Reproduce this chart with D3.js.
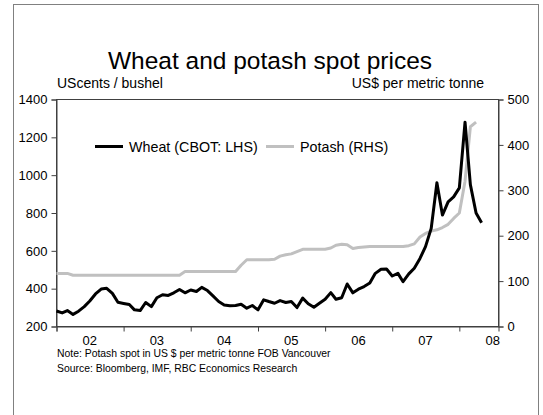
<!DOCTYPE html>
<html>
<head>
<meta charset="utf-8">
<script src="https://cdn.jsdelivr.net/npm/d3@7"></script>
<style>
  body { margin: 0; background: #fff; }
  svg text { font-family: "Liberation Sans", Arial, sans-serif; fill: #000; }
</style>
</head>
<body>
<svg id="chart" width="543" height="415"></svg>
<script>
// monthly averages, Jan 2002 onwards
var startMonth = new Date(2002, 0, 1);

// wheat, CBOT, US cents per bushel (left axis)
var wheat = [
  282, 272, 284, 264, 281, 305, 335, 372, 398, 402, 375, 328,
  322, 316, 288, 284, 327, 305, 352, 368, 364, 378, 396, 378,
  393, 385, 407, 390, 362, 332, 314, 310, 311, 318, 297, 311,
  288, 341, 332, 323, 337, 327, 332, 300, 350, 320, 302, 323,
  344, 379, 344, 352, 425, 378, 397, 411, 430, 481, 503, 504,
  467, 481, 437, 478, 508, 560, 622, 719, 960, 789, 859, 885,
  933, 1280, 950, 800, 748
];

// potash, US$ per metric tonne FOB Vancouver (right axis)
var potash = [
  117, 117, 117, 113, 113, 113, 113, 113, 113, 113, 113, 113,
  113, 113, 113, 113, 113, 113, 113, 113, 113, 113, 113, 121,
  121, 121, 121, 121, 121, 121, 121, 121, 121, 135, 147, 147,
  147, 147, 147, 148, 155, 158, 160, 165, 170, 170, 170, 170,
  170, 173, 179, 181, 180, 172, 174, 175, 176, 176, 176, 176,
  176, 176, 176, 178, 182, 197, 205, 210, 213, 218, 225, 238,
  250, 320, 440, 450
];

var leftTicks = [200, 400, 600, 800, 1000, 1200, 1400];
var rightTicks = [0, 100, 200, 300, 400, 500];
var yearLabels = ["02", "03", "04", "05", "06", "07", "08"];

var svg = d3.select("#chart");

var plot = { left: 56.5, right: 498.5, top: 99.5, bottom: 326.5 };

var monthDate = function (i) {
  return d3.timeMonth.offset(startMonth, i);
};

var x = d3.scaleTime()
  .domain([startMonth, new Date(2008, 7, 1)])
  .range([plot.left, plot.right]);

var yL = d3.scaleLinear().domain([200, 1400]).range([plot.bottom, plot.top]);
var yR = d3.scaleLinear().domain([0, 500]).range([plot.bottom, plot.top]);

// outer frame
svg.append("rect")
  .attr("x", 13.5).attr("y", 4.5)
  .attr("width", 525).attr("height", 430)
  .attr("fill", "none").attr("stroke", "#808080").attr("stroke-width", 1);

// title and unit labels
svg.append("text")
  .attr("x", 270).attr("y", 69)
  .attr("text-anchor", "middle")
  .attr("font-size", "24.5px")
  .text("Wheat and potash spot prices");

svg.append("text")
  .attr("x", 57).attr("y", 88)
  .attr("font-size", "14px")
  .text("UScents / bushel");

svg.append("text")
  .attr("x", 484).attr("y", 88)
  .attr("text-anchor", "end")
  .attr("font-size", "14px")
  .text("US$ per metric tonne");

// plot box
svg.append("rect")
  .attr("x", plot.left).attr("y", plot.top)
  .attr("width", plot.right - plot.left).attr("height", plot.bottom - plot.top)
  .attr("fill", "none").attr("stroke", "#404040").attr("stroke-width", 1);

// left axis
var axL = svg.append("g")
  .attr("transform", "translate(" + plot.left + ",0)")
  .call(d3.axisLeft(yL).tickValues(leftTicks).tickFormat(d3.format("d"))
    .tickSize(5).tickPadding(4));

// right axis
var axR = svg.append("g")
  .attr("transform", "translate(" + plot.right + ",0)")
  .call(d3.axisRight(yR).tickValues(rightTicks).tickFormat(d3.format("d"))
    .tickSize(5).tickPadding(4));

// bottom axis: ticks at year boundaries, labels mid-year
var yearTicks = d3.timeYear.range(new Date(2002, 0, 1), new Date(2008, 1, 1));
var axB = svg.append("g")
  .attr("transform", "translate(0," + plot.bottom + ")")
  .call(d3.axisBottom(x).tickValues(yearTicks).tickSize(5).tickFormat(""));

[axL, axR, axB].forEach(function (ax) {
  ax.select(".domain").attr("stroke", "#404040");
  ax.selectAll(".tick line").attr("stroke", "#404040");
  ax.selectAll(".tick text")
    .attr("font-family", "Liberation Sans, Arial, sans-serif")
    .attr("font-size", "13px")
    .attr("fill", "#000");
});

svg.append("g").selectAll("text")
  .data(yearLabels)
  .join("text")
  .attr("x", function (d, i) { return x(new Date(2002 + i, 6, 1)); })
  .attr("y", 345)
  .attr("text-anchor", "middle")
  .attr("font-size", "13px")
  .text(function (d) { return d; });

// series
var lineL = d3.line()
  .x(function (d, i) { return x(monthDate(i)); })
  .y(function (d) { return yL(d); });

var lineR = d3.line()
  .x(function (d, i) { return x(monthDate(i)); })
  .y(function (d) { return yR(d); });

svg.append("path")
  .datum(potash)
  .attr("d", lineR)
  .attr("fill", "none")
  .attr("stroke", "#c0c0c0")
  .attr("stroke-width", 3)
  .attr("stroke-linejoin", "round");

svg.append("path")
  .datum(wheat)
  .attr("d", lineL)
  .attr("fill", "none")
  .attr("stroke", "#000")
  .attr("stroke-width", 3)
  .attr("stroke-linejoin", "round");

// legend
var legend = [
  { name: "Wheat (CBOT: LHS)", color: "#000", x: 95 },
  { name: "Potash (RHS)", color: "#c0c0c0", x: 266 }
];
var lg = svg.append("g").selectAll("g")
  .data(legend)
  .join("g")
  .attr("transform", function (d) { return "translate(" + d.x + ",146.5)"; });
lg.append("line")
  .attr("x1", 0).attr("x2", 28)
  .attr("stroke", function (d) { return d.color; })
  .attr("stroke-width", 3);
lg.append("text")
  .attr("x", 34).attr("y", 5)
  .attr("font-size", "14.3px")
  .text(function (d) { return d.name; });

// notes
svg.append("text")
  .attr("x", 57).attr("y", 357)
  .attr("font-size", "10.4px")
  .text("Note: Potash spot in US $ per metric tonne FOB Vancouver");
svg.append("text")
  .attr("x", 57).attr("y", 372)
  .attr("font-size", "10.4px")
  .text("Source: Bloomberg, IMF, RBC Economics Research");
</script>
</body>
</html>
